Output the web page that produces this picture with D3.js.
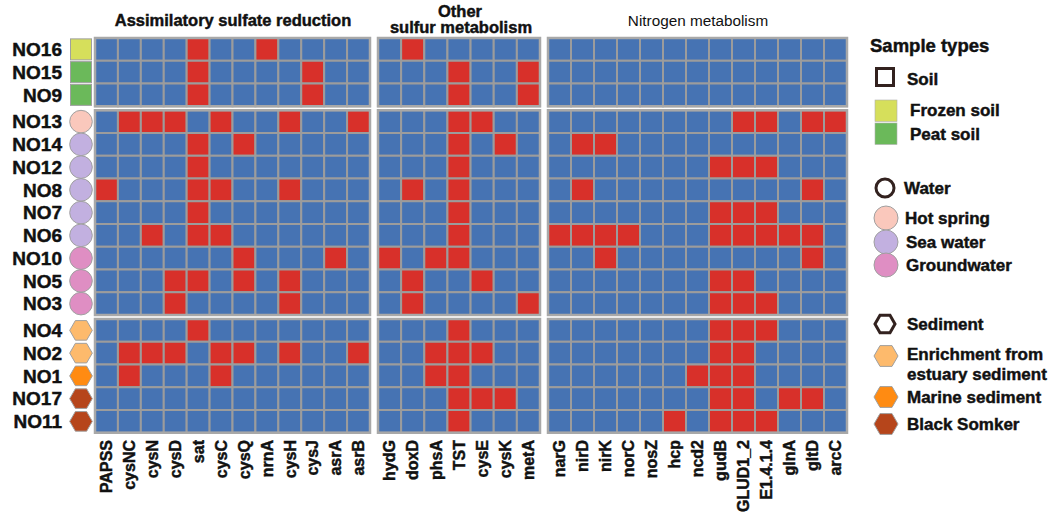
<!DOCTYPE html>
<html>
<head>
<meta charset="utf-8">
<script src="https://cdn.jsdelivr.net/npm/d3@7"></script>
<style>
    body { margin: 0; background: #fff; }
    text { font-family: "Liberation Sans", Arial, sans-serif; fill: #111; }
    .heavy { stroke: #111; stroke-width: 0.45px; }
</style>
</head>
<body>
<svg id="chart" width="1050" height="518"></svg>
<script>
// samples, top to bottom
const samples = ["NO16", "NO15", "NO9", "NO13", "NO14", "NO12", "NO8", "NO7", "NO6",
    "NO10", "NO5", "NO3", "NO4", "NO2", "NO1", "NO17", "NO11"];
const sampleTypes = ["Frozen soil", "Peat soil", "Peat soil", "Hot spring", "Sea water",
    "Sea water", "Sea water", "Sea water", "Sea water", "Groundwater", "Groundwater",
    "Groundwater", "Enrichment", "Enrichment", "Marine sediment", "Black Somker", "Black Somker"];
const groupSizes = [3, 9, 5];

const asrGenes = ["PAPSS", "cysNC", "cysN", "cysD", "sat", "cysC", "cysQ", "nrnA", "cysH", "cysJ", "asrA", "asrB"];
const osmGenes = ["hydG", "doxD", "phsA", "TST", "cysE", "cysK", "metA"];
const nitGenes = ["narG", "nirD", "nirK", "norC", "nosZ", "hcp", "ncd2", "gudB", "GLUD1_2", "E1.4.1.4", "glnA", "gltD", "arcC"];

// 1 = gene present (red), 0 = absent (blue), one string per sample
const asrHits = ["000010010000", "000010000100", "000010000100", "011101001001", "000010100000",
    "000010000000", "100011001000", "000010000000", "001011000000", "000000100010", "000110101000",
    "000100001000", "000010000000", "011101101001", "010001000000", "000000000000", "000000000000"];
const osmHits = ["0100000", "0001001", "0001001", "0001100", "0001010", "0001000", "0101000",
    "0001000", "0001000", "1011000", "0100100", "0100001", "0001000", "0011100", "0011000",
    "0001110", "0001000"];
const nitHits = ["0000000000000", "0000000000000", "0000000000000", "0000000011011", "0110000000000",
    "0000000111000", "0100000000010", "0000000111000", "1111000111110", "0010000000010",
    "0000000110000", "0000000111000", "0000000111000", "0000000110000", "0000001110000",
    "0000000110110", "0000010111000"];

const typeShape = {
    "Frozen soil": "square", "Peat soil": "square",
    "Hot spring": "circle", "Sea water": "circle", "Groundwater": "circle",
    "Enrichment": "hex", "Marine sediment": "hex", "Black Somker": "hex"
};
const typeColor = {
    "Frozen soil": "#d6df5b", "Peat soil": "#6bb95a",
    "Hot spring": "#fac8bc", "Sea water": "#c2b0e0", "Groundwater": "#df8ec3",
    "Enrichment": "#fdba6c", "Marine sediment": "#ff8b12", "Black Somker": "#b6451b"
};

const legendLabels = ["Soil", "Frozen soil", "Peat soil", "Water", "Hot spring", "Sea water",
    "Groundwater", "Sediment", "Enrichment from|estuary sediment", "Marine sediment", "Black Somker"];
const legendTypes = [null, "Frozen soil", "Peat soil", null, "Hot spring", "Sea water",
    "Groundwater", null, "Enrichment", "Marine sediment", "Black Somker"];
const legendShapes = ["square", "square", "square", "circle", "circle", "circle", "circle",
    "hex", "hex", "hex", "hex"];

const BLUE = "#4673b3", RED = "#d8302a", GRID = "#9c9c9c";

const svg = d3.select("#chart");

// row scales, one band scale per sample group
const rowH = 22.75, groupGap = 4, topY = 38;
const groups = [];
let start = 0, y0 = topY;
groupSizes.forEach((n) => {
    const ids = samples.slice(start, start + n);
    groups.push({
        ids,
        scale: d3.scaleBand().domain(ids).range([y0, y0 + n * rowH]),
    });
    start += n;
    y0 += n * rowH + groupGap;
});
const yOf = (s) => groups.find((g) => g.ids.includes(s)).scale(s);
const band = rowH;

const panels = [
    { genes: asrGenes, hits: asrHits, range: [95, 370] },
    { genes: osmGenes, hits: osmHits, range: [378, 540] },
    { genes: nitGenes, hits: nitHits, range: [548, 847] },
];

panels.forEach((p) => {
    const x = d3.scaleBand().domain(p.genes).range(p.range);
    const pg = svg.append("g");

    const cells = [];
    samples.forEach((s, i) => {
        p.genes.forEach((gname, j) => {
            cells.push({ s, gname, on: p.hits[i][j] === "1" });
        });
    });

    pg.selectAll("rect.cell")
        .data(cells)
        .join("rect")
        .attr("class", "cell")
        .attr("x", (d) => x(d.gname))
        .attr("y", (d) => yOf(d.s))
        .attr("width", x.bandwidth())
        .attr("height", band)
        .attr("fill", (d) => (d.on ? RED : BLUE))
        .attr("stroke", GRID)
        .attr("stroke-width", 2);

    // block frames
    pg.selectAll("rect.frame")
        .data(groups)
        .join("rect")
        .attr("class", "frame")
        .attr("x", p.range[0])
        .attr("y", (g) => g.scale.range()[0])
        .attr("width", p.range[1] - p.range[0])
        .attr("height", (g) => g.scale.range()[1] - g.scale.range()[0])
        .attr("fill", "none")
        .attr("stroke", "#a8a8a8")
        .attr("stroke-width", 2.5);

    // column labels
    const labY = 440;
    pg.selectAll("text.col")
        .data(p.genes)
        .join("text")
        .attr("class", "col heavy")
        .attr("transform", (d) => `translate(${x(d) + x.bandwidth() / 2},${labY}) rotate(-90)`)
        .attr("text-anchor", "end")
        .attr("dy", "0.36em")
        .attr("font-size", 16)
        .attr("font-weight", "bold")
        .text((d) => d);
});

// titles
const titles = svg.append("g").attr("font-weight", "bold").attr("class", "heavy");
titles.append("text")
    .attr("x", 233).attr("y", 26)
    .attr("text-anchor", "middle").attr("font-size", 16.5)
    .text("Assimilatory sulfate reduction");
titles.append("text")
    .attr("x", 460).attr("y", 17)
    .attr("text-anchor", "middle").attr("font-size", 16.5)
    .text("Other");
titles.append("text")
    .attr("x", 461).attr("y", 33)
    .attr("text-anchor", "middle").attr("font-size", 16.5)
    .text("sulfur metabolism");
svg.append("text")
    .attr("x", 698).attr("y", 26)
    .attr("text-anchor", "middle").attr("font-size", 15.3)
    .text("Nitrogen metabolism");

// shape helper
function drawShape(g, shape, cx, cy, r) {
    if (shape === "square") {
        return g.append("rect").attr("x", cx - r).attr("y", cy - r)
            .attr("width", 2 * r).attr("height", 2 * r);
    }
    if (shape === "circle") {
        return g.append("circle").attr("cx", cx).attr("cy", cy).attr("r", r);
    }
    const pts = d3.range(6).map((k) => {
        const a = (Math.PI / 3) * k;
        return [cx + r * Math.cos(a), cy + r * Math.sin(a)];
    });
    return g.append("polygon").attr("points", pts.map((p) => p.join(",")).join(" "));
}

// row labels + sample annotation
const rows = svg.append("g");
samples.forEach((s, i) => {
    const cy = yOf(s) + band / 2;
    rows.append("text")
        .attr("class", "heavy")
        .attr("x", 62).attr("y", cy)
        .attr("dy", "0.36em")
        .attr("text-anchor", "end")
        .attr("font-size", 19)
        .attr("font-weight", "bold")
        .text(s);
    const t = sampleTypes[i];
    const sh = typeShape[t];
    drawShape(rows, sh, 81, cy, sh === "square" ? 10.5 : 11.3)
        .attr("fill", typeColor[t])
        .attr("stroke", "#a0a0a0")
        .attr("stroke-width", 1);
});

// legend
const lg = svg.append("g").attr("font-weight", "bold");
lg.append("text").attr("class", "heavy").attr("x", 870).attr("y", 52).attr("font-size", 18.5).text("Sample types");

const legendY = [85, 116, 140, 194, 224, 248, 271, 330, 360, 403, 430];
const legendTx = [907, 910, 910, 904, 905, 906, 906, 907, 907, 907, 907];
legendLabels.forEach((lab, i) => {
    const by = legendY[i];
    const cy = by - 6;
    const t = legendTypes[i];
    const sh = legendShapes[i];
    if (t === null) {
        if (sh === "square") {
            lg.append("rect").attr("x", 876.5).attr("y", 68.5).attr("width", 17).attr("height", 17)
                .attr("fill", "none").attr("stroke", "#33221f").attr("stroke-width", 3);
        } else {
            drawShape(lg, sh, 885, cy, sh === "circle" ? 9 : 10)
                .attr("fill", "none").attr("stroke", "#33221f").attr("stroke-width", 3);
        }
    } else if (sh === "square") {
        lg.append("rect").attr("x", 875).attr("y", i === 1 ? 100 : 123)
            .attr("width", 22).attr("height", 21.5)
            .attr("fill", typeColor[t]).attr("stroke", "#b0b0b0").attr("stroke-width", 0.6);
    } else {
        drawShape(lg, sh, 886, i === 8 ? by - 4 : cy, 12)
            .attr("fill", typeColor[t]).attr("stroke", "#a0a0a0").attr("stroke-width", 1);
    }
    lab.split("|").forEach((ln, k) => {
        lg.append("text").attr("class", "heavy").attr("x", legendTx[i]).attr("y", by + k * 20)
            .attr("font-size", 17).text(ln);
    });
});
</script>
</body>
</html>
